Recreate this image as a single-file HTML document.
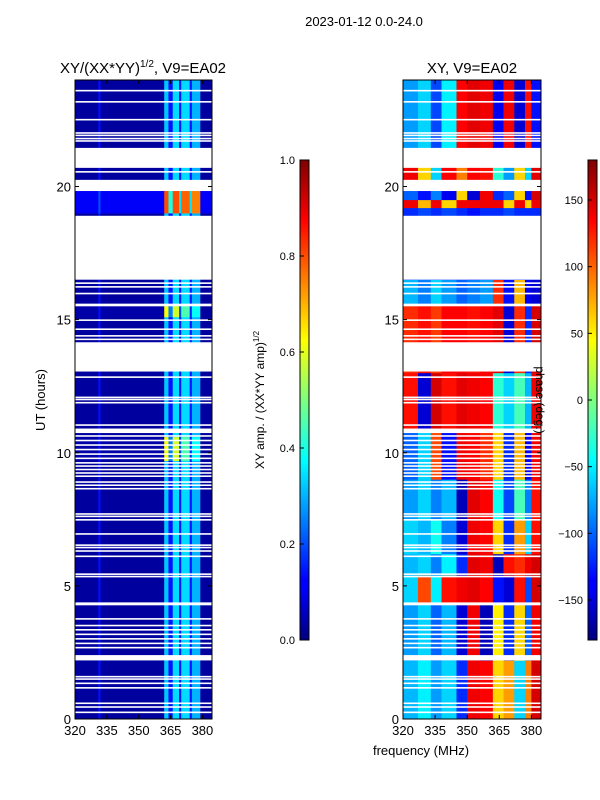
<!DOCTYPE html>
<html><head><meta charset="utf-8">
<style>
html,body{margin:0;padding:0;background:#fff;}
svg{display:block;font-family:"Liberation Sans","DejaVu Sans",sans-serif;}
text{fill:#000;}
</style></head>
<body>
<svg id="fig" width="600" height="800" viewBox="0 0 600 800">
<text x="364" y="26" font-size="13" text-anchor="middle">2023-01-12 0.0-24.0</text>
<text x="143" y="73" font-size="15" text-anchor="middle">XY/(XX*YY)<tspan font-size="10" dy="-6">1/2</tspan><tspan dy="6">, V9=EA02</tspan></text>
<text x="472" y="73" font-size="15" text-anchor="middle">XY, V9=EA02</text>
<g id="left-cells"></g>
<g id="right-cells"></g>
<g id="axes"></g>
<text transform="translate(45,400) rotate(-90)" font-size="13" text-anchor="middle">UT (hours)</text>
<text x="421" y="755" font-size="13" text-anchor="middle">frequency (MHz)</text>
<defs>
<linearGradient id="jet" x1="0" y1="1" x2="0" y2="0">
<stop offset="0" stop-color="#00007f"/><stop offset="0.11" stop-color="#0000ff"/><stop offset="0.125" stop-color="#0000ff"/>
<stop offset="0.375" stop-color="#00ffff"/><stop offset="0.5" stop-color="#7fff7f"/><stop offset="0.625" stop-color="#ffff00"/>
<stop offset="0.875" stop-color="#ff0000"/><stop offset="1" stop-color="#7f0000"/>
</linearGradient>
</defs>
<rect x="300" y="160" width="9" height="480" fill="url(#jet)" stroke="#000" stroke-width="1"/>
<rect x="588" y="160" width="9" height="480" fill="url(#jet)" stroke="#000" stroke-width="1"/>
<g id="cbar1"></g>
<g id="cbar2"></g>
<text transform="translate(264,400) rotate(-90)" font-size="12" text-anchor="middle">XY amp. / (XX*YY amp)<tspan font-size="8" dy="-5">1/2</tspan></text>
<text transform="translate(536,400) rotate(90)" font-size="12" text-anchor="middle">phase (deg.)</text>
</svg>
<script>
// ---- data ----
const yTicks = [0,5,10,15,20];
const xTicks = [320,335,350,365,380];
const ampTicks = [0.0,0.2,0.4,0.6,0.8,1.0];
const phaseTicks = [-150,-100,-50,0,50,100,150];
const gapBands = [[21.45,20.7],[20.25,19.83],[18.9,16.5],[14.15,13.05],[2.4,2.2],[10.91,10.74],[15.6,15.5],[4.38,4.27]];
const thinGaps = [23.6,23.18,22.51,22.01,21.92,21.8,21.71,20.55,16.37,16.23,15.98,14.98,14.64,14.39,14.26,12.84,12.08,12.0,11.88,11.04,10.63,10.46,10.29,10.12,9.95,9.79,9.62,9.5,9.37,9.24,9.12,8.9,8.78,8.65,7.7,7.61,7.48,6.95,6.53,6.44,6.31,6.11,5.44,5.35,3.76,3.51,3.35,3.18,3.01,2.84,2.68,1.59,1.5,1.34,1.17,0.59,0.45,0.25];
const ampCols = [320,331,332,362,364,366,369,370,374,375,379,384.5];
const ampNormal = [0.03,0.14,0.03,0.32,0.14,0.34,0.14,0.34,0.14,0.3,0.03];
const ampBright = [0.04,0.14,0.04,0.62,0.25,0.58,0.2,0.45,0.16,0.38,0.03];
const ampHot = [0.12,0.2,0.12,0.8,0.4,0.8,0.35,0.78,0.35,0.75,0.12];
const ampBands = [[0,9.7,'n'],[9.7,10.6,'b'],[10.6,15.1,'n'],[15.1,15.6,'b'],[15.6,19,'n'],[19,19.9,'h'],[19.9,24,'n']];
const phaseCols = [320,327,333,338,345,350,356,362,367,372,377,380,384.5];
const phaseBands = [
 [0,2.2,[-70,-50,-80,-60,-120,140,135,60,80,-60,90,150]],
 [2.2,4.3,[-80,-60,-100,-70,-150,140,-160,50,-120,60,-100,140]],
 [4.3,5.4,[-60,110,-50,130,140,145,135,-130,-150,130,-110,150]],
 [5.4,6.2,[-70,-60,-90,-50,-120,145,140,-160,130,120,140,150]],
 [6.2,7.5,[-60,-70,-40,-90,-150,140,135,60,-120,80,-60,130]],
 [7.5,9,[-80,-60,-90,-70,-160,145,135,-40,-110,-20,-90,130]],
 [9,10.9,[-100,-60,110,-130,140,135,120,60,-120,70,-140,140]],
 [10.9,13,[130,-150,150,130,145,140,135,-30,-60,-20,-70,140]],
 [13,15.6,[120,130,115,135,135,130,135,145,-150,120,-120,150]],
 [15.6,16.5,[-70,-90,-60,-80,-100,-90,-80,120,-130,70,-140,-150]],
 [16.5,19.2,[-120,-110,-120,-110,-120,-130,-120,-120,-110,-120,-120,-120]],
 [19.2,19.5,[140,70,140,60,140,140,140,140,60,140,60,140]],
 [19.5,19.9,[-100,-130,-90,-140,60,-150,140,-120,-100,60,-130,150]],
 [19.9,21,[140,60,-60,135,90,135,130,-30,-80,60,-60,145]],
 [21,24,[-80,-60,-110,-50,135,145,140,-140,140,-150,130,-130]]
];
// ---- axes ----
const L = {x0:75,x1:212}, R = {x0:403,x1:541};
const yTop = 80, yBot = 719;
function yS(h){return yBot - h*(yBot-yTop)/24;}
function xS(p,f){return p.x0 + (f-320)*(p.x1-p.x0)/(384.5-320);}
function ampY(v){return 640 - v*480;}
function phY(v){return 400 - v*480/360;}
function jet(x){x=Math.max(0,Math.min(1,x));
 const c=t=>Math.round(255*Math.max(0,Math.min(1,1.5-Math.abs(t))));
 return 'rgb('+c(4*x-3)+','+c(4*x-2)+','+c(4*x-1)+')';}
const NS='http://www.w3.org/2000/svg';
function mk(tag,attrs,parent){const e=document.createElementNS(NS,tag);for(const k in attrs)e.setAttribute(k,attrs[k]);parent.appendChild(e);return e;}
const lg=document.getElementById('left-cells');
ampBands.forEach(b=>{
 const vals=b[2]==='n'?ampNormal:(b[2]==='b'?ampBright:ampHot);
 for(let i=0;i<vals.length;i++){
  const x=xS(L,ampCols[i]),w=xS(L,ampCols[i+1])-x;
  const r=mk('rect',{x:x,y:yS(b[1]),width:w+0.3,height:yS(b[0])-yS(b[1])+0.3,fill:jet(vals[i])},lg);
  
  
 }
});
const rg=document.getElementById('right-cells');
phaseBands.forEach(b=>{
 const vals=b[2];
 for(let i=0;i<vals.length;i++){
  const x=xS(R,phaseCols[i]),w=xS(R,phaseCols[i+1])-x;
  const r=mk('rect',{x:x,y:yS(b[1]),width:w+0.3,height:yS(b[0])-yS(b[1])+0.3,fill:jet((vals[i]+180)/360)},rg);
  
  
 }
});
const ax=document.getElementById('axes');
[L,R].forEach(p=>{
 gapBands.forEach(g=>{
  const r=mk('rect',{x:p.x0,y:yS(g[0]),width:p.x1-p.x0,height:yS(g[1])-yS(g[0]),fill:'#fff'},ax);
  
  
 });
 thinGaps.forEach(h=>{
  const r=mk('rect',{x:p.x0,y:yS(h)-0.8,width:p.x1-p.x0,height:1.6,fill:'#fff'},ax);
  
  
 });
 const f=mk('rect',{x:p.x0,y:yTop,width:p.x1-p.x0,height:yBot-yTop,fill:'none',stroke:'#000','stroke-width':1},ax);
 
 
 yTicks.forEach(t=>{
  const y=yS(t);
  mk('line',{x1:p.x0,x2:p.x0+4,y1:y,y2:y,stroke:'#000'},ax);
  mk('line',{x1:p.x1,x2:p.x1-4,y1:y,y2:y,stroke:'#000'},ax);
  const tx=mk('text',{x:p.x0-4,y:y+5,'font-size':13,'text-anchor':'end'},ax);
  tx.textContent=t;
  
  
 });
 xTicks.forEach(t=>{
  const x=xS(p,t);
  mk('line',{x1:x,x2:x,y1:yBot,y2:yBot-4,stroke:'#000'},ax);
  mk('line',{x1:x,x2:x,y1:yTop,y2:yTop+4,stroke:'#000'},ax);
  const tx=mk('text',{x:x,y:yBot+16,'font-size':13,'text-anchor':'middle'},ax);
  tx.textContent=t;
  
  
 });
});
const c1=document.getElementById('cbar1');
ampTicks.forEach(t=>{
 const y=ampY(t);
 mk('line',{x1:300,x2:304,y1:y,y2:y,stroke:'#000'},c1);
 const tx=mk('text',{x:295,y:y+4,'font-size':11,'text-anchor':'end'},c1);
 tx.textContent=t.toFixed(1);
 
 
});
const c2=document.getElementById('cbar2');
phaseTicks.forEach(t=>{
 const y=phY(t);
 mk('line',{x1:588,x2:592,y1:y,y2:y,stroke:'#000'},c2);
 const tx=mk('text',{x:583,y:y+4,'font-size':11,'text-anchor':'end'},c2);
 tx.textContent=t<0?'\u2212'+(-t):t;
 
 
});
</script>
</body></html>
